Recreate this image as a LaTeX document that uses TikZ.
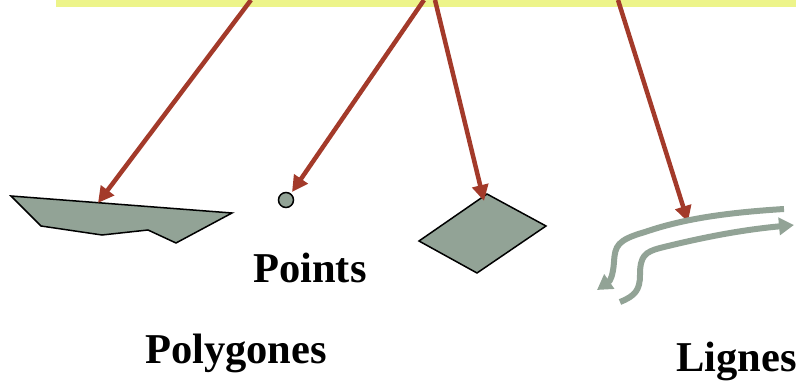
\documentclass[tikz,border=0pt]{standalone}
\usepackage{fontspec}
\setmainfont{Liberation Serif}
\usetikzlibrary{arrows.meta}
\definecolor{band}{HTML}{EDF48A}
\definecolor{arrowred}{HTML}{A33A2A}
\definecolor{shapefill}{HTML}{92A396}
\tikzset{
  pointer/.style={draw=arrowred, line width=4.5pt, -{Triangle[length=16pt,width=16pt]}},
  feature/.style={draw=black, line width=1.5pt, fill=shapefill, line join=miter},
  linefeat/.style={draw=shapefill, line width=6pt, -{Triangle[length=15pt,width=17pt]}},
  label/.style={font=\fontsize{42.5}{48}\selectfont\bfseries, anchor=base west, inner sep=0pt}
}
\begin{document}
\begin{tikzpicture}[x=1pt,y=-1pt]
\useasboundingbox (0,0) rectangle (796,382);
\fill[band] (56,0) rectangle (796,7);
% shapes
\draw[feature] (11,196) -- (232,213) -- (176,243) -- (148,230) -- (102,235) -- (41,226) -- cycle;
\draw[feature] (487,194) -- (546,226) -- (477,273) -- (419,241) -- cycle;
\draw[feature] (286,200) circle (7.5);
% coordinates
\coordinate (s1) at (251,0);
\coordinate (s2) at (424,0);
\coordinate (s3) at (435,0);
\coordinate (s4) at (618,0);
\coordinate (poly) at (98,203);
\coordinate (pt) at (292,192);
\coordinate (dia) at (484,201);
\coordinate (lig) at (688,222);
\draw[pointer] (s1) -- (poly);
\draw[pointer] (s2) -- (pt);
\draw[pointer] (s3) -- (dia);
\draw[pointer] (s4) -- (lig);
% lines
\draw[linefeat] (784,209) .. controls (720,213) and (680,220) .. (645,232)
  .. controls (617,240) and (615,246) .. (614,262)
  .. controls (613,276) and (610,281) .. (597,290);
\draw[linefeat] (620,302) .. controls (635,296) and (640,290) .. (640,275)
  .. controls (640,256) and (645,252) .. (660,248)
  .. controls (700,238) and (740,230) .. (794,225);
% labels
\node[label] (points) at (253,283) {Points};
\node[label] (polygones) at (145,363) {Polygones};
\node[label] (lignes) at (676,372) {Lignes};
\end{tikzpicture}
\end{document}
